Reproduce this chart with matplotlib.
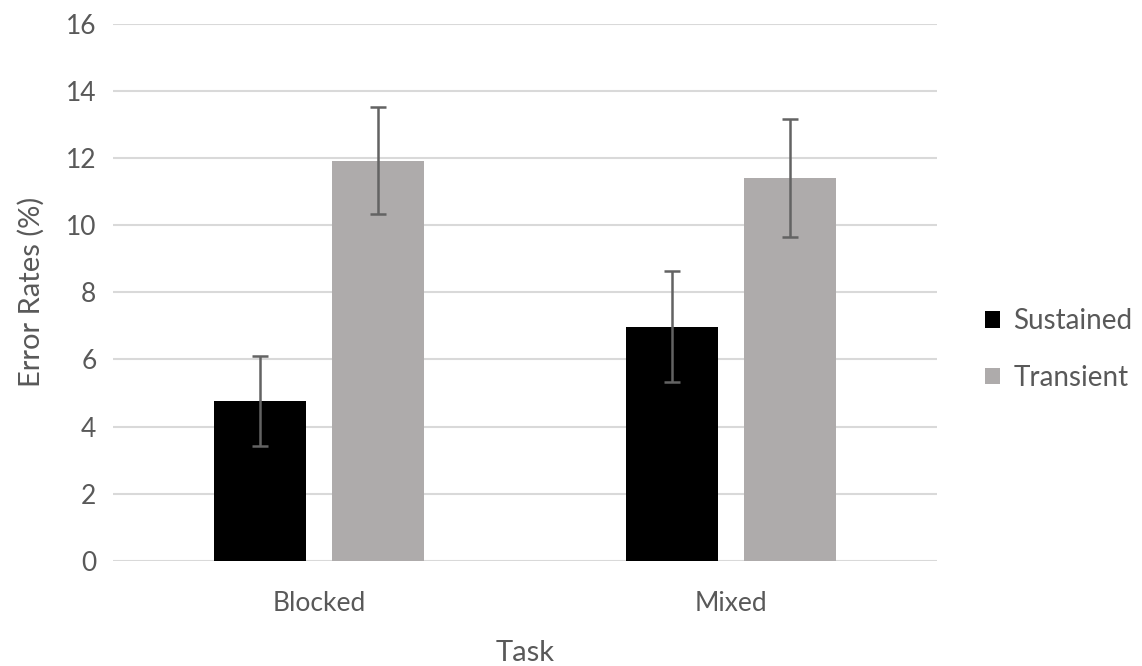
import numpy as np
import matplotlib.pyplot as plt

tasks = ["Blocked", "Mixed"]
sustained = [4.75, 6.98]
sustained_err = [1.34, 1.65]
transient = [11.93, 11.42]
transient_err = [1.6, 1.76]

plt.rcParams['font.family'] = ['Lato', 'DejaVu Sans']
text_col = '#595959'

fig = plt.figure(figsize=(11.42, 6.66), dpi=100)
ax = fig.add_axes([0.099, 0.158, 0.7215, 0.806])

x = np.arange(len(tasks))
w = 0.223
off = 0.143
ebar = dict(ecolor='#636363', elinewidth=1.8, capsize=5.5, capthick=1.8)
ax.bar(x - off, sustained, w, yerr=sustained_err, color='black', label='Sustained',
       error_kw=ebar, zorder=3)
ax.bar(x + off, transient, w, yerr=transient_err, color='#aeabab', label='Transient',
       error_kw=ebar, zorder=3)

ax.set_xlim(-0.5, 1.5)
ax.set_ylim(0, 16)
ax.set_yticks(range(0, 17, 2))
ax.set_xticks(x)
ax.set_xticklabels(tasks)
ax.grid(axis='y', color='#d9d9d9', linewidth=1.5, zorder=0)
ax.set_axisbelow(True)
for s in ax.spines.values():
    s.set_visible(False)
ax.tick_params(length=0, labelsize=19, colors=text_col, pad=12)
ax.tick_params(axis='x', pad=22)
ax.set_ylabel('Error Rates (%)', fontsize=21, color=text_col, labelpad=15)
ax.set_xlabel('Task', fontsize=21, color=text_col, labelpad=17)

leg = fig.legend(loc='center left', bbox_to_anchor=(0.8625, 0.475), frameon=False,
                 fontsize=20, handlelength=0.55, handleheight=0.55, handletextpad=0.47,
                 labelspacing=1.1, borderpad=0, borderaxespad=0)
for t in leg.get_texts():
    t.set_color(text_col)

fig.savefig('out.png', dpi=100)
